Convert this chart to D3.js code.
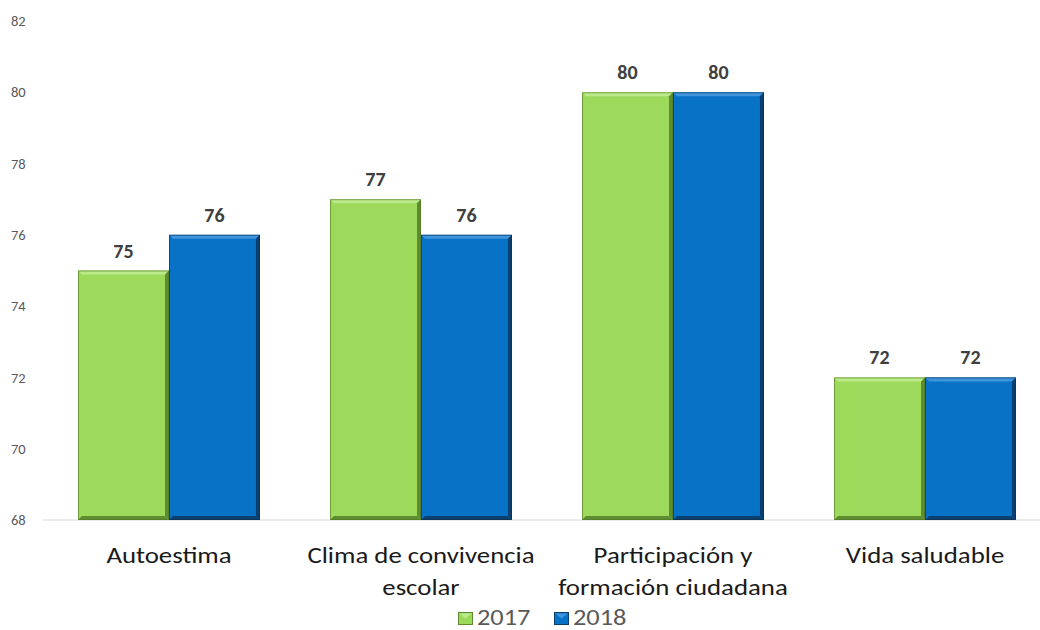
<!DOCTYPE html>
<html><head><meta charset="utf-8">
<script src="https://cdn.jsdelivr.net/npm/d3@7"></script>
<style>body{margin:0;background:#fff}svg{display:block}</style>
</head><body><svg id="c" width="1040" height="630"></svg>
<script>
const categories = [["Autoestima"], ["Clima de convivencia", "escolar"], ["Participación y", "formación ciudadana"], ["Vida saludable"]];
const seriesNames = ["2017", "2018"];
const values2017 = [75, 77, 80, 72];
const values2018 = [76, 76, 80, 72];
const yTicks = [68, 70, 72, 74, 76, 78, 80, 82];

const colors = {
  "2017": {fill: "#9DDA5C", light: "#BBEA8A", dark: "#5F8C30", edge: "#4E7427"},
  "2018": {fill: "#0872C6", light: "#3F95DC", dark: "#0A3F6E", edge: "#0B2E4E"}
};

(function(){
const svg = d3.select("#c");
const font = "Carlito, Lato, sans-serif";
const pLeft = 43, pRight = 1051, pTop = 21, pBottom = 520;

const x = d3.scaleBand().domain(d3.range(categories.length)).range([pLeft, pRight]).paddingInner(0.278).paddingOuter(0.139);
const xs = d3.scaleBand().domain(seriesNames).range([0, x.bandwidth()]);
const y = d3.scaleLinear().domain([68, 82]).range([pBottom, pTop]);

svg.append("line").attr("x1", pLeft).attr("x2", 1040).attr("y1", y(68)).attr("y2", y(68))
  .attr("stroke", "#d9d9d9").attr("stroke-width", 1);

const yAxis = d3.axisLeft(y).tickValues(yTicks).tickSize(0).tickPadding(0);
const ga = svg.append("g").attr("transform", `translate(11,0)`).call(yAxis);
ga.select(".domain").remove();
ga.selectAll("text").attr("font-family", font).attr("font-size", 14.5).attr("fill", "#595959").attr("text-anchor", "start");

const data = [];
categories.forEach((c, i) => {
  data.push({i, s: "2017", v: values2017[i]});
  data.push({i, s: "2018", v: values2018[i]});
});

const bw = xs.bandwidth();
const b = 4;
data.forEach(d => {
  const x0 = x(d.i) + xs(d.s), x1 = x0 + bw, y0 = y(d.v), y1 = y(68);
  const c = colors[d.s];
  const g = svg.append("g");
  g.append("rect").attr("x", x0).attr("y", y0).attr("width", bw).attr("height", y1 - y0).attr("fill", c.fill);
  g.append("polygon").attr("points", [[x0, y0], [x1, y0], [x1 - b, y0 + b], [x0 + b, y0 + b]].join(" ")).attr("fill", c.light);
  g.append("polygon").attr("points", [[x1, y0], [x1, y1], [x1 - b, y1 - b], [x1 - b, y0 + b]].join(" ")).attr("fill", c.dark);
  g.append("polygon").attr("points", [[x0, y1], [x1, y1], [x1 - b, y1 - b], [x0 + b, y1 - b]].join(" ")).attr("fill", c.dark);
  g.append("rect").attr("x", x0 + 0.5).attr("y", y0 + 0.5).attr("width", bw - 1).attr("height", y1 - y0 - 1)
    .attr("fill", "none").attr("stroke", c.edge).attr("stroke-width", 1).attr("stroke-opacity", 0.6);
  svg.append("text").attr("x", x0 + bw / 2).attr("y", y0 - 13).attr("text-anchor", "middle")
    .attr("font-family", font).attr("font-weight", "bold").attr("font-size", 20).attr("fill", "#404040").text(d.v);
});

categories.forEach((lines, i) => {
  const cx = x(i) + x.bandwidth() / 2;
  const t = svg.append("text").attr("transform", `translate(${cx},0) scale(1.22,1)`)
    .attr("text-anchor", "middle").attr("font-family", font).attr("font-size", 22).attr("fill", "#1a1a1a");
  lines.forEach((l, k) => t.append("tspan").attr("x", 0).attr("y", 563 + k * 32).text(l));
});

const legX = [458, 554];
seriesNames.forEach((s, k) => {
  const c = colors[s];
  const g = svg.append("g").attr("transform", `translate(${legX[k]},612)`);
  g.append("rect").attr("x", 0.5).attr("y", 0.5).attr("width", 14).attr("height", 12).attr("fill", c.fill).attr("stroke", c.dark).attr("stroke-width", 1);
  g.append("polygon").attr("points", "1.5,1.5 13.5,1.5 7.5,6.5").attr("fill", c.light);
  g.append("text").attr("transform", "translate(19,12.5) scale(1.2,1)").attr("font-family", font).attr("font-size", 22).attr("fill", "#595959").text(s);
});
})();
</script></body></html>
